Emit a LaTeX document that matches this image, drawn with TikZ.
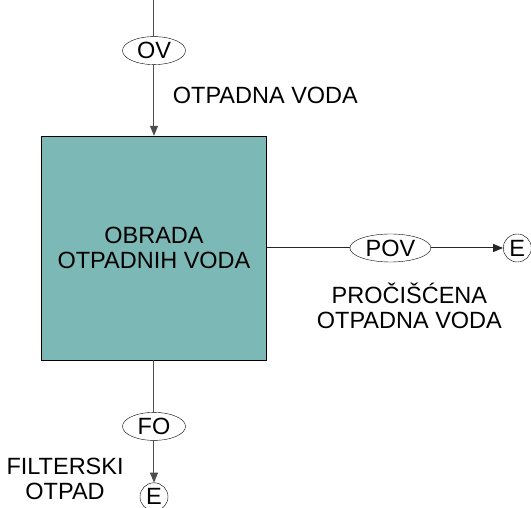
\documentclass[tikz,border=0pt]{standalone}
\usepackage{fontspec}
\setmainfont{Liberation Sans}
\usepackage{tikz}
\usetikzlibrary{arrows.meta,positioning,shapes.geometric}
\usepackage{xcolor}
\definecolor{tankfill}{RGB}{124,184,181}
\newcommand{\flowfont}{\fontsize{23.5}{25}\selectfont}

\begin{document}
\begin{tikzpicture}[
  procnode/.style={rectangle, draw=black, fill=tankfill, minimum width=225pt,
                   minimum height=224pt, align=center, font=\flowfont},
  streamnode/.style={ellipse, draw=black, fill=white, minimum width=63pt,
                     minimum height=28pt, inner sep=0pt, font=\flowfont},
  endnode/.style={circle, draw=black, fill=white, minimum size=28pt,
                  inner sep=0pt, font=\flowfont},
  lbl/.style={inner sep=0pt, align=center, font=\flowfont},
  flow/.style={draw=black!70, line width=1pt},
  >={Triangle[length=10pt,width=8pt]}
]
\useasboundingbox (-154pt,248pt) rectangle (377pt,-260pt);

% Treatment unit
\node[procnode] (box) at (0,0) {OBRADA\\OTPADNIH VODA};

% Inflow
\node[streamnode, above=71pt of box] (ov) {OV};
\coordinate[above=37pt of ov] (in);
\node[lbl, anchor=north west] (ovlbl) at ([shift={(-13pt,-36pt)}]ov.east) {OTPADNA VODA};

% Purified water
\node[streamnode, minimum width=81pt, right=83pt of box] (pov) {POV};
\node[endnode, right=72pt of pov] (eout) {E};
\node[lbl, below=21pt of pov, xshift=19pt] (povlbl) {PROČIŠĆENA\\OTPADNA VODA};

% Filter waste
\node[streamnode, below=52pt of box] (fo) {FO};
\node[endnode, below=42pt of fo] (ebot) {E};
\node[lbl, anchor=south east] (folbl) at ([shift={(-16pt,-3pt)}]ebot.west) {FILTERSKI\\OTPAD};

% Connectors
\draw[flow] (in) -- (ov);
\draw[flow, ->] (ov) -- (box);
\draw[flow, black!85] (box) -- (pov);
\draw[flow, black!85, ->] (pov) -- (eout);
\draw[flow] (box) -- (fo);
\draw[flow, ->] (fo) -- (ebot);

\end{tikzpicture}
\end{document}
